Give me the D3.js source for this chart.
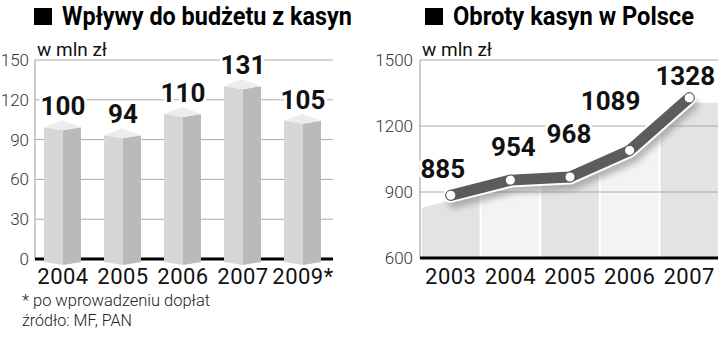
<!DOCTYPE html>
<html lang="pl">
<head>
    <meta charset="UTF-8">
    <title>Kasyna</title>
    <script src="https://d3js.org/d3.v7.min.js"></script>
    <style>
        body { margin: 0; background: #fff; }
        text { font-family: Roboto, "DejaVu Sans", sans-serif; }
    </style>
</head>
<body>
    <script>
        // wplywy do budzetu (lewy wykres)
        var budgetYears = ["2004", "2005", "2006", "2007", "2009*"];
        var budgetValues = [100, 94, 110, 131, 105];
        var budgetTicks = [0, 30, 60, 90, 120, 150];

        // obroty kasyn (prawy wykres)
        var turnoverYears = ["2003", "2004", "2005", "2006", "2007"];
        var turnoverValues = [885, 954, 968, 1089, 1328];
        var turnoverTicks = [600, 900, 1200, 1500];
        // przesuniecia etykiet wartosci wzgledem punktow
        var labelShift = [[-8, -17], [3, -24], [-1, -34], [-19, -40], [-4, -13]];

        var w = 720, h = 339;
        var svg = d3.select("body").append("svg")
            .attr("width", w)
            .attr("height", h);

        var defs = svg.append("defs");
        defs.append("filter").attr("id", "blur")
            .attr("x", "-20%").attr("y", "-50%").attr("width", "140%").attr("height", "200%")
            .append("feGaussianBlur").attr("stdDeviation", 3);

        function title(x, text, len) {
            svg.append("rect").attr("x", x).attr("y", 8).attr("width", 18).attr("height", 17).attr("fill", "#000");
            svg.append("text").attr("x", x + 28).attr("y", 25)
                .attr("font-size", 25).attr("font-weight", 700)
                .attr("textLength", len).attr("lengthAdjust", "spacingAndGlyphs")
                .text(text);
        }

        // ---------- lewy wykres ----------
        title(34, "Wpływy do budżetu z kasyn", 290);

        var yL = d3.scaleLinear().domain([0, 150]).range([259, 60]);
        var xL = d3.scaleBand().domain(budgetYears).range([33, 333]);
        var left = svg.append("g");

        left.selectAll(".grid").data(budgetTicks.slice(1)).enter()
            .append("line")
            .attr("x1", 35).attr("x2", 333)
            .attr("y1", d => yL(d)).attr("y2", d => yL(d))
            .attr("stroke", "#aaa").attr("stroke-width", 1);

        left.append("line").attr("x1", 35).attr("x2", 35)
            .attr("y1", yL(150)).attr("y2", yL(0))
            .attr("stroke", "#999");

        left.selectAll(".tick").data(budgetTicks).enter()
            .append("text")
            .attr("x", 29).attr("y", d => yL(d))
            .attr("dy", "0.35em")
            .attr("text-anchor", "end")
            .attr("font-size", 17).attr("font-weight", 300).attr("fill", "#333")
            .text(d => d);

        left.append("line").attr("x1", 35).attr("x2", 333)
            .attr("y1", yL(0)).attr("y2", yL(0))
            .attr("stroke", "#000").attr("stroke-width", 3);

        left.append("text").attr("x", 37).attr("y", 56)
            .attr("font-size", 18).attr("fill", "#111")
            .attr("textLength", 70).attr("lengthAdjust", "spacingAndGlyphs")
            .text("w mln zł");

        var bars = left.selectAll(".bar").data(budgetValues).enter().append("g");
        var y0 = yL(0);
        bars.append("path")
            .attr("fill", "#d6d6d6")
            .attr("d", function(d, i) {
                var c = xL(budgetYears[i]) + xL.bandwidth() / 2, y = yL(d);
                return "M" + (c - 19) + "," + (y + 1) + "L" + c + "," + (y + 4) +
                    "L" + c + "," + (y0 + 6) + "L" + (c - 19) + "," + (y0 + 3) + "Z";
            });
        bars.append("path")
            .attr("fill", "#bababa")
            .attr("d", function(d, i) {
                var c = xL(budgetYears[i]) + xL.bandwidth() / 2, y = yL(d);
                return "M" + c + "," + (y + 4) + "L" + (c + 18) + "," + (y + 1) +
                    "L" + (c + 18) + "," + (y0 + 3) + "L" + c + "," + (y0 + 6) + "Z";
            });
        bars.append("path")
            .attr("fill", "#ececec")
            .attr("d", function(d, i) {
                var c = xL(budgetYears[i]) + xL.bandwidth() / 2, y = yL(d);
                return "M" + (c - 19) + "," + (y + 1) + "L" + (c - 1) + "," + (y - 6) +
                    "L" + (c + 18) + "," + (y + 1) + "L" + c + "," + (y + 4) + "Z";
            });

        left.selectAll(".val").data(budgetValues).enter()
            .append("text")
            .attr("x", (d, i) => xL(budgetYears[i]) + xL.bandwidth() / 2)
            .attr("y", d => yL(d) - 11)
            .attr("text-anchor", "middle")
            .attr("font-size", 26).attr("font-weight", 700)
            .attr("stroke", "#fff").attr("stroke-width", 6).attr("paint-order", "stroke")
            .attr("fill", "#111")
            .text(d => d);

        left.selectAll(".cat").data(budgetYears).enter()
            .append("text")
            .attr("x", d => xL(d) + xL.bandwidth() / 2)
            .attr("y", 284)
            .attr("text-anchor", "middle")
            .attr("font-size", 22).attr("letter-spacing", 0.5).attr("fill", "#111")
            .text(d => d);

        svg.append("text").attr("x", 22).attr("y", 306)
            .attr("font-size", 17).attr("font-weight", 300).attr("fill", "#222")
            .attr("textLength", 188).attr("lengthAdjust", "spacingAndGlyphs")
            .text("* po wprowadzeniu dopłat");
        svg.append("text").attr("x", 22).attr("y", 326)
            .attr("font-size", 17).attr("font-weight", 300).attr("fill", "#222")
            .attr("textLength", 110).attr("lengthAdjust", "spacingAndGlyphs")
            .text("źródło: MF, PAN");

        // ---------- prawy wykres ----------
        title(425, "Obroty kasyn w Polsce", 241);

        var yR = d3.scaleLinear().domain([600, 1500]).range([258, 60]);
        var xR = d3.scaleBand().domain(turnoverYears).range([422, 718]).paddingInner(0.035);
        var right = svg.append("g");
        var pts = turnoverValues.map((d, i) => [xR(turnoverYears[i]) + xR.bandwidth() / 2, yR(d)]);

        // obszar pod linia
        var p0 = pts[0], p1 = pts[1], pn = pts[pts.length - 1];
        var leftY = p0[1] + (p0[0] - 421) * (p0[1] - p1[1]) / (p1[0] - p0[0]);
        var areaPts = [[421, leftY]].concat(pts).concat([[718, pn[1]]]).map(p => [p[0], p[1] + 5]);
        var area = d3.area().x(d => d[0]).y0(yR(600)).y1(d => d[1]);
        defs.append("clipPath").attr("id", "areaClip")
            .append("path").attr("d", area(areaPts));

        right.append("g").attr("clip-path", "url(#areaClip)")
            .selectAll("rect").data(turnoverYears).enter()
            .append("rect")
            .attr("x", d => xR(d))
            .attr("width", xR.bandwidth())
            .attr("y", yR(1500)).attr("height", yR(600) - yR(1500))
            .attr("fill", (d, i) => i % 2 ? "#f3f3f3" : "#e3e3e3");

        right.selectAll(".grid").data(turnoverTicks.slice(1)).enter()
            .append("line")
            .attr("x1", 420).attr("x2", 718)
            .attr("y1", d => yR(d)).attr("y2", d => yR(d))
            .attr("stroke", "#aaa").attr("stroke-width", 1);

        right.append("line").attr("x1", 420).attr("x2", 420)
            .attr("y1", yR(1500)).attr("y2", yR(600))
            .attr("stroke", "#999");

        right.selectAll(".tick").data(turnoverTicks).enter()
            .append("text")
            .attr("x", 413).attr("y", d => yR(d))
            .attr("dy", "0.35em")
            .attr("text-anchor", "end")
            .attr("font-size", 17).attr("font-weight", 300).attr("fill", "#333")
            .text(d => d);

        right.append("line").attr("x1", 420).attr("x2", 718)
            .attr("y1", yR(600)).attr("y2", yR(600))
            .attr("stroke", "#000").attr("stroke-width", 3);

        right.append("text").attr("x", 422).attr("y", 56)
            .attr("font-size", 18).attr("fill", "#111")
            .attr("textLength", 70).attr("lengthAdjust", "spacingAndGlyphs")
            .text("w mln zł");

        var line = d3.line().x(d => d[0]).y(d => d[1]);
        right.append("path").attr("d", line(pts))
            .attr("transform", "translate(3,7)")
            .attr("fill", "none").attr("stroke", "#888").attr("stroke-width", 12)
            .attr("stroke-linecap", "round").attr("stroke-linejoin", "round")
            .attr("opacity", 0.6).attr("filter", "url(#blur)");
        right.append("path").attr("d", line(pts))
            .attr("fill", "none").attr("stroke", "#fff").attr("stroke-width", 15)
            .attr("stroke-linecap", "round").attr("stroke-linejoin", "round");
        right.append("path").attr("d", line(pts))
            .attr("fill", "none").attr("stroke", "#5c5c5c").attr("stroke-width", 11)
            .attr("stroke-linecap", "round").attr("stroke-linejoin", "round");

        right.selectAll("circle").data(pts).enter()
            .append("circle")
            .attr("cx", d => d[0]).attr("cy", d => d[1]).attr("r", 5)
            .attr("fill", "#fff").attr("stroke", "#444").attr("stroke-width", 0.8);

        right.selectAll(".val").data(turnoverValues).enter()
            .append("text")
            .attr("x", (d, i) => pts[i][0] + labelShift[i][0])
            .attr("y", (d, i) => pts[i][1] + labelShift[i][1])
            .attr("text-anchor", "middle")
            .attr("font-size", 26).attr("font-weight", 700)
            .attr("stroke", "#fff").attr("stroke-width", 6).attr("paint-order", "stroke")
            .attr("fill", "#111")
            .text(d => d);

        right.selectAll(".cat").data(turnoverYears).enter()
            .append("text")
            .attr("x", d => xR(d) + xR.bandwidth() / 2)
            .attr("y", 284)
            .attr("text-anchor", "middle")
            .attr("font-size", 22).attr("letter-spacing", 0.5).attr("fill", "#111")
            .text(d => d);
    </script>
</body>
</html>
